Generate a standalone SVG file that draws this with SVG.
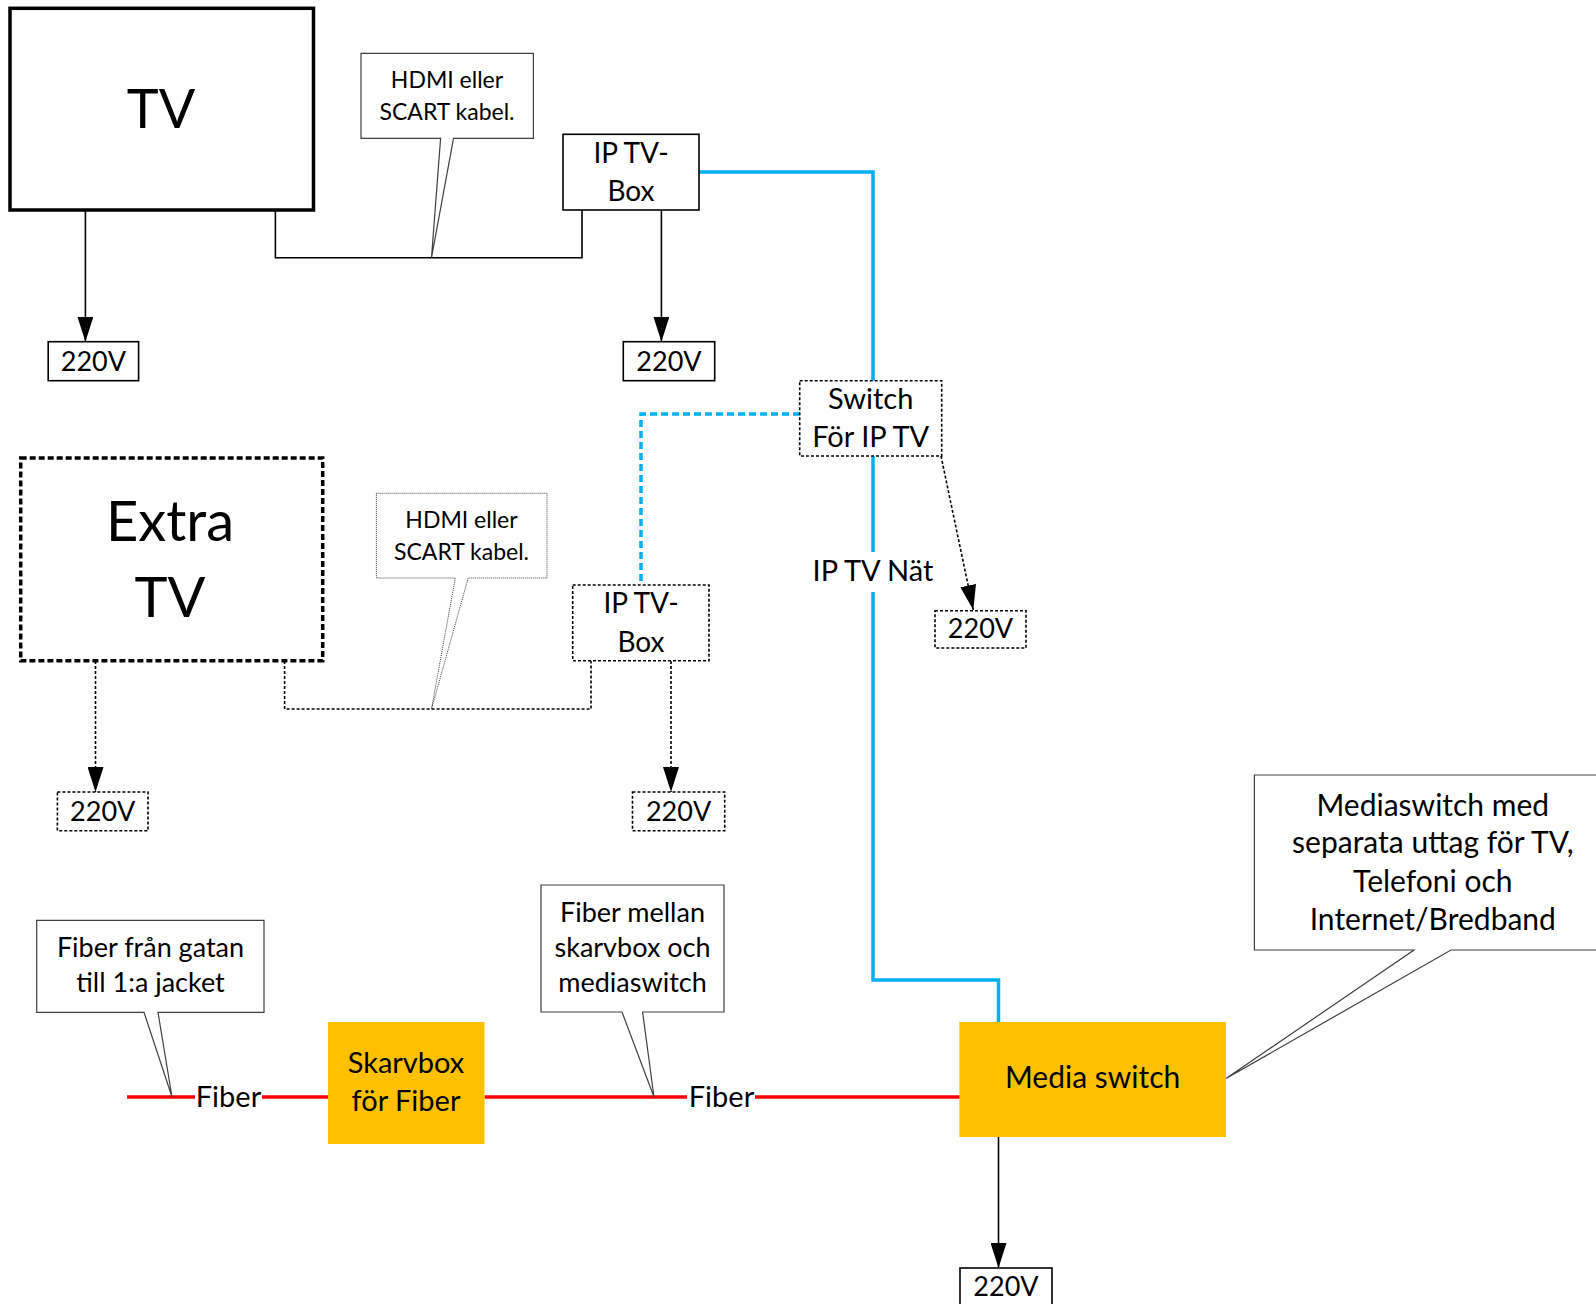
<svg xmlns="http://www.w3.org/2000/svg" width="1596" height="1304" viewBox="0 0 1596 1304">
<style>
text{font-family:Lato,"Open Sans",sans-serif;fill:#000;text-anchor:middle}
.t27{font-size:27px}
.t28{font-size:28px}
.t29{font-size:29px}
.t54{font-size:54px}
.t56{font-size:56px}
.t23{font-size:23px}
.t27c{font-size:27px}
.t30{font-size:30px}
.box{fill:#fff;stroke:#000;stroke-width:1.6}
.dot{fill:#fff;stroke:#000;stroke-width:1.6;stroke-dasharray:3 2}
.thick{fill:#fff;stroke:#000;stroke-width:3.5}
.thickdash{fill:#fff;stroke:#000;stroke-width:3.5;stroke-dasharray:6 3}
.yellow{fill:#FFC000}
.call{fill:#fff;stroke:#404040;stroke-width:1.2}
.calldot{fill:#fff;stroke:#404040;stroke-width:1;stroke-dasharray:1 1}
.ln{fill:none;stroke:#000;stroke-width:1.6}
.lndot{fill:none;stroke:#000;stroke-width:1.6;stroke-dasharray:3 2}
.blue{fill:none;stroke:#00B0F0;stroke-width:3.5}
.bluedash{fill:none;stroke:#00B0F0;stroke-width:3.5;stroke-dasharray:7 4}
.red{fill:none;stroke:#FF0000;stroke-width:3.5}
</style>
<defs>
<marker id="arr" markerUnits="userSpaceOnUse" markerWidth="26" markerHeight="16" refX="25" refY="8" orient="auto">
<path d="M0,0 L25,8 L0,16 Z" fill="#000"/>
</marker>
</defs>

<g id="connectors">
<path class="ln" d="M85.4,210 V341.7" marker-end="url(#arr)"/>
<path class="ln" d="M275.4,210 V257.7 H582 V210"/>
<path class="ln" d="M661.4,210 V341.7" marker-end="url(#arr)"/>
<path class="blue" d="M699,172 H873 V380.7"/>
<path class="blue" d="M873,456 V552"/>
<path class="blue" d="M873,592 V980 H998.5 V1022"/>
<path class="bluedash" d="M800,414 H641 V585"/>
<path class="lndot" d="M941,456 L973.3,610" marker-end="url(#arr)"/>
<path class="lndot" d="M95.5,661 V792" marker-end="url(#arr)"/>
<path class="lndot" d="M284.6,661 V709 H591 V661"/>
<path class="lndot" d="M671,661 V792" marker-end="url(#arr)"/>
<path class="red" d="M127,1097 H195"/>
<path class="red" d="M262,1097 H328"/>
<path class="red" d="M484.5,1097 H687"/>
<path class="red" d="M755,1097 H960"/>
<path class="ln" d="M998.5,1137 V1268" marker-end="url(#arr)"/>
</g>

<g id="tv">
<rect class="thick" x="10" y="8.3" width="303.5" height="201.7"/>
<text class="t54" x="161" y="128">TV</text>
</g>

<g id="callout-hdmi-1">
<path class="call" d="M361,53.3 H533.4 V138.3 H453.5 L431.5,257.7 L440.6,138.3 H361 Z"/>
<text class="t23" x="447" y="88">HDMI eller</text>
<text class="t23" x="447" y="119.5">SCART kabel.</text>
</g>

<g id="iptvbox-1">
<rect class="box" x="563" y="134.3" width="136" height="75.7"/>
<text class="t28" x="631" y="163">IP TV-</text>
<text class="t28" x="631" y="201">Box</text>
</g>

<g id="power-1">
<rect class="box" x="48.2" y="341.7" width="90.4" height="39"/>
<text class="t27" x="93.4" y="370.7">220V</text>
</g>

<g id="power-2">
<rect class="box" x="623.3" y="341.7" width="91.4" height="39"/>
<text class="t27" x="669" y="370.7">220V</text>
</g>

<g id="switch-iptv">
<rect class="dot" x="799.7" y="380.7" width="142" height="75.3"/>
<text class="t29" x="870.7" y="409">Switch</text>
<text class="t29" x="870.7" y="446.7">För IP TV</text>
</g>

<g id="label-iptv-nat">
<text class="t29" x="873" y="581">IP TV Nät</text>
</g>

<g id="power-3">
<rect class="dot" x="935" y="610.7" width="91" height="37.3"/>
<text class="t27" x="980.5" y="638">220V</text>
</g>

<g id="extra-tv">
<rect class="thickdash" x="20.7" y="458" width="302" height="202.7"/>
<text class="t56" x="170" y="540.7">Extra</text>
<text class="t56" x="170" y="616.7">TV</text>
</g>

<g id="callout-hdmi-2">
<path class="calldot" d="M376.4,493.3 H547 V578 H468.2 L431.5,709 L455.3,578 H376.4 Z"/>
<text class="t23" x="461.5" y="528.3">HDMI eller</text>
<text class="t23" x="461.5" y="560">SCART kabel.</text>
</g>

<g id="iptvbox-2">
<rect class="dot" x="572.7" y="585" width="136.3" height="75.7"/>
<text class="t28" x="641" y="613">IP TV-</text>
<text class="t28" x="641" y="652">Box</text>
</g>

<g id="power-4">
<rect class="dot" x="57.4" y="792" width="90.6" height="38.7"/>
<text class="t27" x="102.7" y="821">220V</text>
</g>

<g id="power-5">
<rect class="dot" x="632.5" y="792" width="92.2" height="38.7"/>
<text class="t27" x="678.6" y="821">220V</text>
</g>

<g id="callout-fiber-gatan">
<path class="call" d="M36.7,920.3 H264 V1012.3 H158 L172,1097 L144,1012.3 H36.7 Z"/>
<text class="t27c" x="150.5" y="956.7">Fiber från gatan</text>
<text class="t27c" x="150.5" y="992">till 1:a jacket</text>
</g>

<g id="label-fiber-1">
<text class="t29" x="228.5" y="1107">Fiber</text>
</g>

<g id="skarvbox">
<rect class="yellow" x="328" y="1022" width="156.5" height="122"/>
<text class="t29" x="406" y="1073.3">Skarvbox</text>
<text class="t29" x="406" y="1110.7">för Fiber</text>
</g>

<g id="callout-fiber-mellan">
<path class="call" d="M541,885 H724 V1012 H642.6 L654,1097 L622,1012 H541 Z"/>
<text class="t27c" x="632.5" y="921.7">Fiber mellan</text>
<text class="t27c" x="632.5" y="956.7">skarvbox och</text>
<text class="t27c" x="632.5" y="992.3">mediaswitch</text>
</g>

<g id="label-fiber-2">
<text class="t29" x="721.5" y="1107">Fiber</text>
</g>

<g id="media-switch">
<rect class="yellow" x="959.4" y="1022" width="266.6" height="115"/>
<text class="t30" x="1092.6" y="1088">Media switch</text>
</g>

<g id="callout-mediaswitch">
<path class="call" d="M1254.4,775 H1600 V950 H1451 L1226,1078.5 L1414,950 H1254.4 Z"/>
<text class="t30" x="1432.8" y="815.5">Mediaswitch med</text>
<text class="t30" x="1432.8" y="853">separata uttag för TV,</text>
<text class="t30" x="1432.8" y="892">Telefoni och</text>
<text class="t30" x="1432.8" y="930">Internet/Bredband</text>
</g>

<g id="power-6">
<rect class="box" x="960" y="1268" width="92" height="45"/>
<text class="t27" x="1006" y="1296">220V</text>
</g>
</svg>
